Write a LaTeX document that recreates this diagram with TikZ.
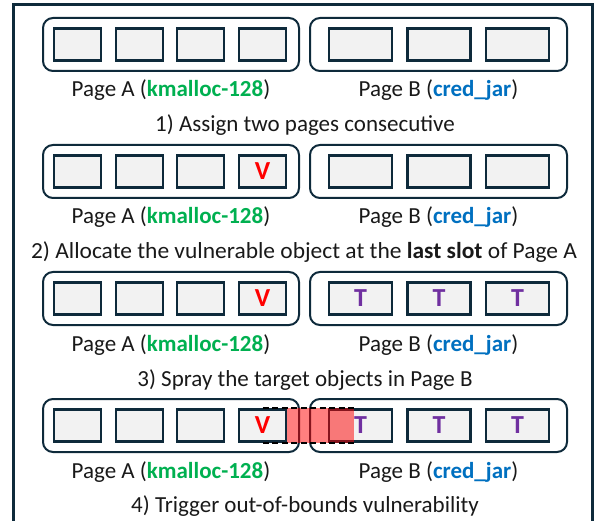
\documentclass[tikz,border=0pt]{standalone}
\usepackage{fontspec}
\setmainfont{Carlito}
\usetikzlibrary{calc}
\definecolor{navy}{HTML}{0E2A3B}
\definecolor{slotfill}{HTML}{F2F2F2}
\definecolor{kgreen}{HTML}{00B050}
\definecolor{cblue}{HTML}{0070C0}
\definecolor{vred}{HTML}{FF0000}
\definecolor{tpurple}{HTML}{7030A0}
\tikzset{
  frameline/.style={draw=navy, line width=2.6pt},
  pagebox/.style={draw=navy, line width=2pt, rounded corners=10pt, minimum height=53pt, inner sep=0pt},
  slotA/.style={draw=navy, fill=slotfill, line width=2.2pt, minimum width=47pt, minimum height=32pt, inner sep=0pt},
  slotB/.style={draw=navy, fill=slotfill, line width=2.2pt, minimum width=63pt, minimum height=32pt, inner sep=0pt},
  lbl/.style={anchor=base, inner sep=0pt, font=\fontsize{23}{27}\selectfont, text=black!90},
  vtext/.style={inner sep=0pt, font=\fontsize{26}{30}\selectfont\bfseries, text=vred},
  ttext/.style={inner sep=0pt, font=\fontsize{26}{30}\selectfont\bfseries, text=tpurple},
  dashline/.style={draw=black, line width=2pt, dash pattern=on 6pt off 3.5pt},
}
\begin{document}
\begin{tikzpicture}[x=1pt,y=-1pt]
\useasboundingbox (0,0) rectangle (594,521);
\begin{scope}
  \clip (0,0) rectangle (594,521);
  \draw[frameline] (13.5,4.5) rectangle (592.5,545);
\end{scope}
\foreach \r/\T in {1/18,2/145,3/272,4/399}{
  \node[pagebox, minimum width=256pt] (pA\r) at (171,\T+26.5) {};
  \node[pagebox, minimum width=257pt] (pB\r) at (438.5,\T+26.5) {};
  \foreach \i/\x in {1/77.5,2/139.5,3/200.5,4/262.5}{
    \node[slotA] (a\r\i) at (\x,\T+26.5) {};
  }
  \foreach \i/\x in {1/360.5,2/439,3/517.5}{
    \node[slotB] (b\r\i) at (\x,\T+26.5) {};
  }
  \node[lbl] (la\r) at (171,\T+79) {Page A (\textcolor{kgreen}{\textbf{kmalloc-128}})};
  \node[lbl] (lb\r) at (438.5,\T+79) {Page B (\textcolor{cblue}{\textbf{cred\_jar}})};
}
\node[lbl] (c1) at (305,132) {1) Assign two pages consecutive};
\node[lbl] (c2) at (304,259) {\scalebox{1.02}[1]{2) Allocate the vulnerable object at the \textbf{last slot} of Page A}};
\node[lbl] (c3) at (305,386) {3) Spray the target objects in Page B};
\node[lbl] (c4) at (305,512) {4) Trigger out-of-bounds vulnerability};
% overflow in row 4
\fill[vred, opacity=0.5] (a44.north east) rectangle ($(b41.south west)+(26,0)$);
\draw[dashline] (a44.north) -- ($(b41.north west)+(26,0)$);
\draw[dashline] (a44.south) -- ($(b41.south west)+(26,0)$);
% object labels
\node[vtext] (v2) at (a24) {V};
\node[vtext] (v3) at (a34) {V};
\node[vtext] (v4) at (a44) {V};
\foreach \r in {3,4}{
  \foreach \i in {1,2,3}{
    \node[ttext] (t\r\i) at (b\r\i) {T};
  }
}
\end{tikzpicture}
\end{document}
